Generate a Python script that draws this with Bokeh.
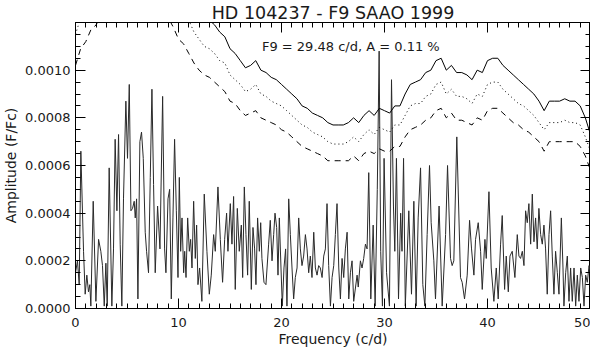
from bokeh.plotting import figure
from bokeh.models import LinearAxis, SingleIntervalTicker, PrintfTickFormatter, Range1d, Label
from bokeh.embed import file_html
from bokeh.resources import INLINE

TITLE = "HD 104237 - F9 SAAO 1999"
X_LABEL = "Frequency (c/d)"
Y_LABEL = "Amplitude (F/Fc)"
NOTE = "F9 = 29.48 c/d, A = 0.11 %"
NOTE_POS = (18.1, 0.00110)

# amplitude spectrum (frequency in c/d, amplitude in F/Fc)
freq = [0.00, 0.19, 0.36, 0.52, 0.78, 0.94, 1.10, 1.26, 1.39, 1.49, 1.72, 1.98, 2.24, 2.46, 2.62, 2.79,
        2.95, 3.08, 3.27, 3.53, 3.69, 3.85, 4.02, 4.18, 4.34, 4.50, 4.66, 4.89, 5.05, 5.22, 5.38, 5.54,
        5.70, 5.80, 5.93, 6.06, 6.25, 6.41, 6.58, 6.77, 6.90, 7.09, 7.26, 7.42, 7.58, 7.74, 7.97, 8.20,
        8.46, 8.65, 8.78, 8.98, 9.14, 9.30, 9.46, 9.62, 9.79, 9.95, 10.08, 10.21, 10.34, 10.50, 10.60,
        10.73, 10.89, 11.05, 11.18, 11.31, 11.47, 11.63, 11.76, 11.89, 12.05, 12.27, 12.50, 12.76, 12.99,
        13.18, 13.41, 13.57, 13.83, 14.06, 14.28, 14.48, 14.67, 14.80, 15.03, 15.19, 15.35, 15.51, 15.71,
        15.90, 16.10, 16.23, 16.39, 16.55, 16.71, 16.87, 17.07, 17.23, 17.39, 17.52, 17.68, 17.85, 17.98,
        18.10, 18.30, 18.49, 18.75, 18.91, 19.08, 19.24, 19.37, 19.53, 19.66, 19.79, 19.95, 20.08, 20.24,
        20.40, 20.53, 20.70, 20.86, 21.02, 21.18, 21.34, 21.51, 21.67, 21.83, 21.99, 22.15, 22.32, 22.48,
        22.64, 22.80, 22.96, 23.13, 23.29, 23.45, 23.61, 23.77, 23.94, 24.10, 24.26, 24.42, 24.58, 24.75,
        24.91, 25.07, 25.23, 25.39, 25.56, 25.72, 25.88, 26.04, 26.20, 26.37, 26.53, 26.69, 26.85, 27.01,
        27.34, 27.45, 27.66, 27.82, 27.98, 28.15, 28.31, 28.47, 28.67, 28.90, 29.09, 29.30, 29.48, 29.63,
        29.80, 29.96, 30.20, 30.48, 30.68, 30.87, 31.00, 31.16, 31.36, 31.57, 31.70, 31.85, 32.02, 32.36,
        32.62, 32.85, 33.07, 33.27, 33.50, 33.72, 33.92, 34.14, 34.37, 34.53, 34.79, 34.95, 35.30, 35.60,
        35.93, 36.12, 36.41, 36.57, 36.73, 37.02, 37.38, 37.54, 37.77, 38.03, 38.26, 38.45, 38.68, 38.84,
        39.10, 39.33, 39.49, 39.75, 39.88, 40.14, 40.36, 40.62, 40.85, 41.04, 41.27, 41.43, 41.66, 41.82,
        42.02, 42.18, 42.40, 42.66, 42.89, 43.05, 43.21, 43.38, 43.54, 43.70, 43.86, 44.02, 44.19, 44.35,
        44.51, 44.67, 44.83, 44.99, 45.16, 45.32, 45.48, 45.64, 45.80, 45.97, 46.13, 46.29, 46.45, 46.61,
        46.78, 46.94, 47.17, 47.33, 47.42, 47.59, 47.75, 47.91, 48.07, 48.23, 48.40, 48.56, 48.72, 48.88,
        49.05, 49.21, 49.37, 49.53, 49.69, 49.86, 50.00]
amp = [0.00015, 0.00020, 0.00010, 0.00066, 0.00024, 0.00006, 0.00014, 0.00007, 0.00010, 0.00001, 0.00045,
       0.00003, 0.00029, 0.00024, 0.00018, 0.00001, 0.00019, 0.00001, 0.00059, 0.00001, 0.00025, 0.00071,
       0.00041, 0.00073, 0.00027, 0.00001, 0.00046, 0.00087, 0.00063, 0.00094, 0.00041, 0.00042, 0.00045,
       0.00038, 0.00046, 0.00004, 0.00070, 0.00074, 0.00063, 0.00032, 0.00024, 0.00015, 0.00055, 0.00092,
       0.00052, 0.00015, 0.00043, 0.00025, 0.00089, 0.00025, 0.00015, 0.00046, 0.00050, 0.00004, 0.00038,
       0.00071, 0.00041, 0.00013, 0.00055, 0.00024, 0.00038, 0.00015, 0.00024, 0.00013, 0.00038, 0.00024,
       0.00029, 0.00017, 0.00045, 0.00021, 0.00035, 0.00010, 0.00017, 0.00003, 0.00048, 0.00024, 0.00006,
       0.00014, 0.00031, 0.00024, 0.00051, 0.00029, 0.00011, 0.00029, 0.00040, 0.00024, 0.00044, 0.00027,
       0.00047, 0.00008, 0.00042, 0.00024, 0.00035, 0.00013, 0.00051, 0.00031, 0.00014, 0.00045, 0.00008,
       0.00034, 0.00025, 0.00010, 0.00038, 0.00024, 0.00036, 0.00021, 0.00011, 0.00010, 0.00027, 0.00037,
       0.00020, 0.00031, 0.00040, 0.00034, 0.00014, 0.00038, 0.00017, 0.00001, 0.00017, 0.00025, 0.00001,
       0.00046, 0.00031, 0.00017, 0.00004, 0.00013, 0.00017, 0.00038, 0.00025, 0.00018, 0.00022, 0.00031,
       0.00025, 0.00015, 0.00022, 0.00013, 0.00032, 0.00017, 0.00014, 0.00018, 0.00017, 0.00013, 0.00022,
       0.00025, 0.00044, 0.00018, 0.00001, 0.00013, 0.00018, 0.00031, 0.00044, 0.00017, 0.00004, 0.00021,
       0.00013, 0.00025, 0.00032, 0.00004, 0.00015, 0.00020, 0.00003, 0.00014, 0.00009, 0.00020, 0.00017,
       0.00021, 0.00027, 0.00025, 0.00057, 0.00004, 0.00035, 0.00001, 0.00050, 0.00108, 0.00024, 0.00001,
       0.00063, 0.00015, 0.00001, 0.00096, 0.00043, 0.00024, 0.00063, 0.00004, 0.00040, 0.00024, 0.00063,
       0.00001, 0.00041, 0.00006, 0.00045, 0.00001, 0.00038, 0.00059, 0.00010, 0.00001, 0.00031, 0.00060,
       0.00036, 0.00020, 0.00004, 0.00043, 0.00001, 0.00031, 0.00060, 0.00021, 0.00018, 0.00020, 0.00072,
       0.00013, 0.00011, 0.00004, 0.00014, 0.00037, 0.00025, 0.00014, 0.00029, 0.00036, 0.00024, 0.00008,
       0.00029, 0.00021, 0.00049, 0.00017, 0.00003, 0.00017, 0.00004, 0.00027, 0.00039, 0.00008, 0.00022,
       0.00007, 0.00022, 0.00024, 0.00013, 0.00031, 0.00022, 0.00021, 0.00024, 0.00018, 0.00041, 0.00036,
       0.00044, 0.00027, 0.00048, 0.00028, 0.00038, 0.00025, 0.00042, 0.00031, 0.00027, 0.00035, 0.00025,
       0.00006, 0.00031, 0.00041, 0.00022, 0.00006, 0.00024, 0.00015, 0.00006, 0.00038, 0.00017, 0.00001,
       0.00015, 0.00022, 0.00003, 0.00017, 0.00003, 0.00017, 0.00001, 0.00014, 0.00003, 0.00017, 0.00013,
       0.00001, 0.00014, 0.00011, 0.00018, 0.00014]

# significance levels, sampled every 0.5 c/d from 0 to 50
level_freq = [i * 0.5 for i in range(101)]
level_solid = [0.00128, 0.00136, 0.00140, 0.00146, 0.00149, 0.00154, 0.00158, 0.00160, 0.00162, 0.00163,
               0.00164, 0.00164, 0.00163, 0.00162, 0.00160, 0.00158, 0.00156, 0.00155, 0.00152, 0.00147,
               0.00141, 0.00139, 0.00134, 0.00129, 0.00125, 0.00122, 0.00121, 0.00119, 0.00116, 0.00114,
               0.00109, 0.00107, 0.00104, 0.00101, 0.00102, 0.00104, 0.00100, 0.00099, 0.00097, 0.00096,
               0.00094, 0.00092, 0.00090, 0.00088, 0.00085, 0.00084, 0.00082, 0.00081, 0.00080, 0.00078,
               0.00077, 0.00077, 0.00077, 0.00078, 0.00080, 0.00078, 0.00081, 0.00083, 0.00081, 0.00084,
               0.00083, 0.00082, 0.00085, 0.00085, 0.00090, 0.00094, 0.00095, 0.00096, 0.00099, 0.00100,
               0.00104, 0.00105, 0.00100, 0.00102, 0.00099, 0.00099, 0.00098, 0.00096, 0.00100, 0.00099,
               0.00104, 0.00105, 0.00105, 0.00102, 0.00100, 0.00098, 0.00096, 0.00094, 0.00092, 0.00090,
               0.00087, 0.00083, 0.00087, 0.00087, 0.00087, 0.00088, 0.00087, 0.00087, 0.00085, 0.00080,
               0.00073]
level_dotted = [0.00115, 0.00122, 0.00126, 0.00131, 0.00134, 0.00139, 0.00142, 0.00144, 0.00146, 0.00147,
                0.00148, 0.00148, 0.00147, 0.00146, 0.00144, 0.00142, 0.00140, 0.00140, 0.00137, 0.00132,
                0.00127, 0.00125, 0.00121, 0.00116, 0.00113, 0.00110, 0.00109, 0.00107, 0.00104, 0.00103,
                0.00098, 0.00096, 0.00094, 0.00091, 0.00092, 0.00094, 0.00090, 0.00089, 0.00087, 0.00086,
                0.00085, 0.00083, 0.00081, 0.00079, 0.00077, 0.00076, 0.00074, 0.00073, 0.00072, 0.00070,
                0.00069, 0.00069, 0.00069, 0.00070, 0.00072, 0.00070, 0.00073, 0.00075, 0.00073, 0.00076,
                0.00075, 0.00074, 0.00077, 0.00077, 0.00081, 0.00085, 0.00086, 0.00086, 0.00089, 0.00090,
                0.00094, 0.00095, 0.00090, 0.00092, 0.00089, 0.00089, 0.00088, 0.00086, 0.00090, 0.00089,
                0.00094, 0.00095, 0.00095, 0.00092, 0.00090, 0.00088, 0.00086, 0.00085, 0.00083, 0.00081,
                0.00078, 0.00075, 0.00078, 0.00078, 0.00078, 0.00079, 0.00078, 0.00078, 0.00077, 0.00072,
                0.00066]
level_dashed = [0.00102, 0.00109, 0.00112, 0.00117, 0.00119, 0.00123, 0.00126, 0.00128, 0.00130, 0.00130,
                0.00131, 0.00131, 0.00130, 0.00130, 0.00128, 0.00126, 0.00125, 0.00124, 0.00122, 0.00118,
                0.00113, 0.00111, 0.00107, 0.00103, 0.00100, 0.00098, 0.00097, 0.00095, 0.00093, 0.00091,
                0.00087, 0.00086, 0.00083, 0.00081, 0.00082, 0.00083, 0.00080, 0.00079, 0.00078, 0.00077,
                0.00075, 0.00074, 0.00072, 0.00070, 0.00068, 0.00067, 0.00066, 0.00065, 0.00064, 0.00062,
                0.00062, 0.00062, 0.00062, 0.00062, 0.00064, 0.00062, 0.00065, 0.00066, 0.00065, 0.00067,
                0.00066, 0.00066, 0.00068, 0.00068, 0.00072, 0.00075, 0.00076, 0.00077, 0.00079, 0.00080,
                0.00083, 0.00084, 0.00080, 0.00082, 0.00079, 0.00079, 0.00078, 0.00077, 0.00080, 0.00079,
                0.00083, 0.00084, 0.00084, 0.00082, 0.00080, 0.00078, 0.00077, 0.00075, 0.00074, 0.00072,
                0.00070, 0.00066, 0.00070, 0.00070, 0.00070, 0.00070, 0.00070, 0.00070, 0.00068, 0.00064,
                0.00058]

FONT = "DejaVu Sans"
INK = "#1a1a1a"

p = figure(frame_width=515, frame_height=286, output_backend="svg", toolbar_location=None,
           x_range=Range1d(0, 50), y_range=Range1d(0, 0.0012),
           min_border_left=69, min_border_right=0, min_border_top=16, min_border_bottom=42,
           title=TITLE)
p.title.align = "center"
p.title.text_font = FONT
p.title.text_font_size = "17.5px"
p.title.text_font_style = "normal"
p.title.text_color = INK
p.title.standoff = 0
p.title.offset = 0

p.xgrid.visible = False
p.ygrid.visible = False
p.outline_line_color = "black"
p.outline_line_width = 1
p.background_fill_color = "white"
p.border_fill_color = "white"

xt = SingleIntervalTicker(interval=10, num_minor_ticks=10)
yt = SingleIntervalTicker(interval=0.0002, num_minor_ticks=4)


def style_axis(ax, show_labels=True):
    ax.major_tick_in = 10
    ax.major_tick_out = 0
    ax.minor_tick_in = 5
    ax.minor_tick_out = 0
    ax.axis_line_color = "black"
    ax.major_tick_line_color = "black"
    ax.minor_tick_line_color = "black"
    ax.major_label_text_font = FONT
    ax.major_label_text_font_size = "13px" if show_labels else "0px"
    ax.major_label_text_color = INK
    ax.axis_label_text_font = FONT
    ax.axis_label_text_font_size = "14px"
    ax.axis_label_text_font_style = "normal"
    ax.axis_label_text_color = INK
    if not show_labels:
        ax.major_label_standoff = 0
        ax.major_label_text_alpha = 0


p.xaxis.ticker = xt
p.yaxis.ticker = yt
p.yaxis.formatter = PrintfTickFormatter(format="%.4f")
p.xaxis.axis_label = X_LABEL
p.yaxis.axis_label = Y_LABEL
style_axis(p.xaxis[0])
style_axis(p.yaxis[0])
p.xaxis.major_label_standoff = 9
p.xaxis.axis_label_standoff = 1
p.yaxis.major_label_standoff = 5
p.yaxis.axis_label_standoff = 3

top = LinearAxis(ticker=xt)
style_axis(top, show_labels=False)
p.add_layout(top, "above")
right = LinearAxis(ticker=yt)
style_axis(right, show_labels=False)
p.add_layout(right, "right")

p.line(freq, amp, line_color="#2a2a2a", line_width=1)
p.line(level_freq, level_solid, line_color="black", line_width=1)
p.line(level_freq, level_dotted, line_color="black", line_width=1, line_dash="1 3")
p.line(level_freq, level_dashed, line_color="black", line_width=1, line_dash="6 5")

p.add_layout(Label(x=NOTE_POS[0], y=NOTE_POS[1], text=NOTE, text_font=FONT, text_font_size="13px",
                   text_color=INK, text_baseline="middle", text_align="left"))

open("out.html", "w").write(file_html(p, INLINE))
